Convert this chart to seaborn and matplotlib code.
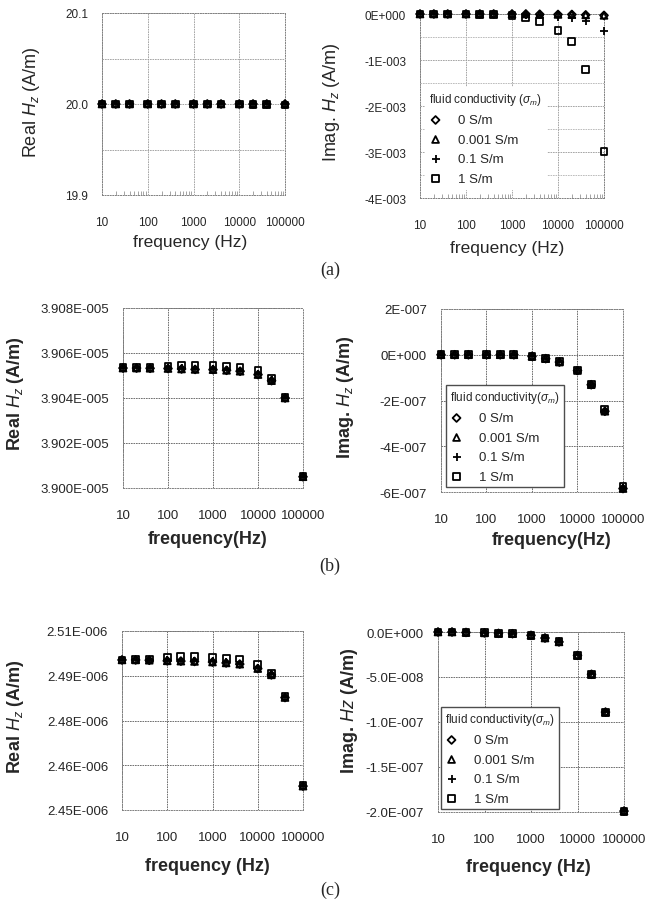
import numpy as np
import pandas as pd
import matplotlib
matplotlib.use("Agg")
import matplotlib.pyplot as plt
import seaborn as sns

# ---- data ----
freq = [10, 20, 40, 100, 200, 400, 1000, 2000, 4000, 10000, 20000, 40000, 100000]
sigma_labels = ["0 S/m", "0.001 S/m", "0.1 S/m", "1 S/m"]
sigma_markers = ["D", "^", "+", "s"]

# (a) real / imag Hz
a_real_0 = [20.0, 20.0, 20.0, 20.0, 20.0, 20.0, 20.0, 20.0, 20.0, 20.0, 20.0, 20.0, 20.0]
a_real_0001 = [20.0, 20.0, 20.0, 20.0, 20.0, 20.0, 20.0, 20.0, 20.0, 20.0, 20.0, 20.0, 20.0]
a_real_01 = [20.0, 20.0, 20.0, 20.0, 20.0, 20.0, 20.0, 20.0, 20.0, 20.0, 20.0, 20.0, 19.9999]
a_real_1 = [20.0, 20.0, 20.0, 20.0, 20.0, 20.0, 20.0, 20.0, 20.0, 19.9999, 19.9998, 19.9996, 19.999]
a_imag_0 = [0, 0, 0, 0, 0, 0, 0, 0, -0.000005, -0.00001, -0.00001, -0.00002, -0.00003]
a_imag_0001 = [0, 0, 0, 0, 0, 0, 0, 0, -0.000005, -0.00001, -0.00001, -0.00002, -0.00003]
a_imag_01 = [0, 0, 0, 0, 0, 0, -0.00001, -0.00002, -0.00003, -0.00006, -0.00008, -0.00016, -0.00036]
a_imag_1 = [0, 0, 0, 0, -0.000005, -0.00001, -0.00003, -0.00007, -0.00016, -0.00036, -0.00059, -0.0012, -0.00299]

# (b)
b_real_0 = [3.90533e-5, 3.90533e-5, 3.90532e-5, 3.90531e-5, 3.90529e-5, 3.90527e-5, 3.90526e-5,
            3.90523e-5, 3.90519e-5, 3.90504e-5, 3.90477e-5, 3.90400e-5, 3.90050e-5]
b_real_0001 = [3.90533e-5, 3.90533e-5, 3.90532e-5, 3.90531e-5, 3.90529e-5, 3.90527e-5, 3.90526e-5,
               3.90523e-5, 3.90519e-5, 3.90504e-5, 3.90477e-5, 3.90400e-5, 3.90050e-5]
b_real_01 = [3.90533e-5, 3.90534e-5, 3.90534e-5, 3.90533e-5, 3.90532e-5, 3.90530e-5, 3.90529e-5,
             3.90526e-5, 3.90522e-5, 3.90507e-5, 3.90479e-5, 3.90401e-5, 3.90050e-5]
b_real_1 = [3.90534e-5, 3.90536e-5, 3.90537e-5, 3.90542e-5, 3.90546e-5, 3.90545e-5, 3.90544e-5,
            3.90540e-5, 3.90536e-5, 3.90521e-5, 3.90487e-5, 3.90403e-5, 3.90052e-5]
b_imag_0 = [0, 0, 0, 0, 0, -0.001e-7, -0.07e-7, -0.17e-7, -0.32e-7, -0.69e-7, -1.31e-7, -2.47e-7, -5.85e-7]
b_imag_0001 = [0, 0, 0, 0, 0, -0.001e-7, -0.07e-7, -0.17e-7, -0.32e-7, -0.69e-7, -1.31e-7, -2.47e-7, -5.85e-7]
b_imag_01 = [0, 0, 0, 0, 0, -0.001e-7, -0.07e-7, -0.17e-7, -0.32e-7, -0.69e-7, -1.31e-7, -2.45e-7, -5.82e-7]
b_imag_1 = [0, 0, 0, 0, 0, -0.001e-7, -0.07e-7, -0.16e-7, -0.31e-7, -0.67e-7, -1.28e-7, -2.40e-7, -5.75e-7]

# (c)
c_real_0 = [2.5003e-6, 2.5003e-6, 2.5002e-6, 2.5000e-6, 2.4999e-6, 2.4998e-6, 2.4996e-6,
            2.4993e-6, 2.4989e-6, 2.4974e-6, 2.4953e-6, 2.4877e-6, 2.4580e-6]
c_real_0001 = [2.5003e-6, 2.5003e-6, 2.5002e-6, 2.5000e-6, 2.4999e-6, 2.4998e-6, 2.4996e-6,
               2.4993e-6, 2.4989e-6, 2.4974e-6, 2.4953e-6, 2.4877e-6, 2.4580e-6]
c_real_01 = [2.5003e-6, 2.5004e-6, 2.5003e-6, 2.5002e-6, 2.5001e-6, 2.5000e-6, 2.4998e-6,
             2.4995e-6, 2.4991e-6, 2.4977e-6, 2.4955e-6, 2.4878e-6, 2.4581e-6]
c_real_1 = [2.5003e-6, 2.5005e-6, 2.5006e-6, 2.50116e-6, 2.5014e-6, 2.5015e-6, 2.5012e-6,
            2.5009e-6, 2.5006e-6, 2.4989e-6, 2.4958e-6, 2.4880e-6, 2.4583e-6]
c_imag_0 = [0, 0, -0.05e-8, -0.1e-8, -0.15e-8, -0.19e-8, -0.37e-8, -0.67e-8, -1.1e-8, -2.6e-8, -4.7e-8, -8.9e-8, -19.9e-8]
c_imag_0001 = [0, 0, -0.05e-8, -0.1e-8, -0.15e-8, -0.19e-8, -0.37e-8, -0.67e-8, -1.1e-8, -2.6e-8, -4.7e-8, -8.9e-8, -19.9e-8]
c_imag_01 = [0, 0, -0.05e-8, -0.1e-8, -0.15e-8, -0.19e-8, -0.37e-8, -0.67e-8, -1.1e-8, -2.6e-8, -4.7e-8, -8.9e-8, -19.9e-8]
c_imag_1 = [0, 0, -0.05e-8, -0.1e-8, -0.15e-8, -0.19e-8, -0.37e-8, -0.66e-8, -1.1e-8, -2.6e-8, -4.7e-8, -8.9e-8, -19.9e-8]

# y ticks and labels
a_real_ticks = [19.9, 20.0, 20.1]
a_real_ticklabels = ["19.9", "20.0", "20.1"]
a_imag_ticks = [-4e-3, -3e-3, -2e-3, -1e-3, 0]
a_imag_ticklabels = ["-4E-003", "-3E-003", "-2E-003", "-1E-003", "0E+000"]
b_real_ticks = [3.900e-5, 3.902e-5, 3.904e-5, 3.906e-5, 3.908e-5]
b_real_ticklabels = ["3.900E-005", "3.902E-005", "3.904E-005", "3.906E-005", "3.908E-005"]
b_imag_ticks = [-6e-7, -4e-7, -2e-7, 0, 2e-7]
b_imag_ticklabels = ["-6E-007", "-4E-007", "-2E-007", "0E+000", "2E-007"]
c_real_ticks = [2.45e-6, 2.465e-6, 2.48e-6, 2.495e-6, 2.51e-6]
c_real_ticklabels = ["2.45E-006", "2.46E-006", "2.48E-006", "2.49E-006", "2.51E-006"]
c_imag_ticks = [-2.0e-7, -1.5e-7, -1.0e-7, -5.0e-8, 0]
c_imag_ticklabels = ["-2.0E-007", "-1.5E-007", "-1.0E-007", "-5.0E-008", "0.0E+000"]
x_ticks = [10, 100, 1000, 10000, 100000]
x_ticklabels = ["10", "100", "1000", "10000", "100000"]

sns.set_theme(style="white")
plt.rcParams['font.family'] = ['Liberation Sans', 'DejaVu Sans']
plt.rcParams['mathtext.fontset'] = 'custom'
plt.rcParams['mathtext.rm'] = 'Liberation Sans'
plt.rcParams['mathtext.it'] = 'Liberation Sans:italic'

W, H = 647, 904
fig = plt.figure(figsize=(W / 100, H / 100), dpi=100)


def box(x0, y0, x1, y1):
    return [x0 / W, 1 - y1 / H, (x1 - x0) / W, (y1 - y0) / H]


def ftxt(x, y, s, **kw):
    fig.text(x / W, 1 - y / H, s, ha='center', va='center', **kw)


def draw(ax, series, ylim, ticks, ticklabels, minor, gridcol, tsize):
    for vals, lab, m in zip(series, sigma_labels, sigma_markers):
        if m == '+':
            sns.scatterplot(x=freq, y=vals, marker=m, s=38, color='black', linewidth=1.3,
                            label=lab, ax=ax, clip_on=False, zorder=5, legend=False)
        else:
            sns.scatterplot(x=freq, y=vals, marker=m, s=24 if m != 'D' else 16,
                            facecolor='none', edgecolor='black', linewidth=1.3,
                            label=lab, ax=ax, clip_on=False, zorder=5, legend=False)
    ax.set_xscale('log')
    ax.set_xlim(10, 100000)
    ax.set_ylim(*ylim)
    ax.set_xticks(x_ticks, x_ticklabels)
    ax.set_yticks(ticks, ticklabels)
    if minor is not None:
        ax.set_yticks(minor, minor=True)
    ax.tick_params(axis='y', which='major', direction='out', length=8, width=0.6,
                   color='0.5', labelsize=tsize, pad=2)
    ax.tick_params(axis='y', which='minor', direction='in', length=3, width=0.5, color='0.5')
    ax.tick_params(axis='x', which='major', direction='out', length=6, width=0.6,
                   color='0.5', labelsize=tsize, pad=9)
    ax.tick_params(axis='x', which='minor', direction='in', length=3, width=0.5,
                   color='0.5', bottom=True)
    ax.grid(True, which='major', color=gridcol, linewidth=0.6, linestyle=(0, (2, 1)))
    for sp in ax.spines.values():
        sp.set_color('0.5')
        sp.set_linewidth(0.7)
        sp.set_linestyle(':')
    ax.set_xlabel('')
    ax.set_ylabel('')


def add_legend(ax, title, x, y, edge):
    ax.legend(title=title, loc='upper left',
              bbox_to_anchor=(x / W, 1 - y / H), bbox_transform=fig.transFigure,
              fontsize=9.5, title_fontsize=8.5, frameon=True, fancybox=False,
              edgecolor=edge, framealpha=1, handlelength=1.0, handletextpad=1.2,
              labelspacing=0.55, borderpad=0.3, borderaxespad=0, alignment='left')


# ---- (a) ----
ax1 = fig.add_axes(box(102, 14, 285, 196))
draw(ax1, [a_real_0, a_real_0001, a_real_01, a_real_1], (19.9, 20.1),
     a_real_ticks, a_real_ticklabels, [19.95, 20.05], '0.6', 8.5)
ax1.grid(True, which='minor', axis='y', color='0.6', linewidth=0.6, linestyle=(0, (2, 1)))

ax2 = fig.add_axes(box(420, 15, 604, 199))
draw(ax2, [a_imag_0, a_imag_0001, a_imag_01, a_imag_1], (-4e-3, 0),
     a_imag_ticks, a_imag_ticklabels, [-3.5e-3, -2.5e-3, -1.5e-3, -0.5e-3], '0.6', 8.5)
ax2.grid(True, which='minor', axis='y', color='0.7', linewidth=0.6, linestyle=(0, (2, 1)))
add_legend(ax2, r"fluid conductivity ($\sigma_m$)", 425, 88, 'white')

ftxt(32, 102, r"Real $H_z$ (A/m)", rotation=90, fontsize=13)
ftxt(190, 243, "frequency (Hz)", fontsize=12.5)
ftxt(332, 102, r"Imag. $H_z$ (A/m)", rotation=90, fontsize=13)
ftxt(507, 248, "frequency (Hz)", fontsize=12.5)
ftxt(330, 270, "(a)", fontsize=13, family='Liberation Serif')

# ---- (b) ----
ax3 = fig.add_axes(box(123, 309, 303, 489))
draw(ax3, [b_real_0, b_real_0001, b_real_01, b_real_1], (3.900e-5, 3.908e-5),
     b_real_ticks, b_real_ticklabels, [3.901e-5, 3.903e-5, 3.905e-5, 3.907e-5], '0.35', 9.5)

ax4 = fig.add_axes(box(441, 310, 623, 493))
draw(ax4, [b_imag_0, b_imag_0001, b_imag_01, b_imag_1], (-6e-7, 2e-7),
     b_imag_ticks, b_imag_ticklabels, [-5e-7, -3e-7, -1e-7, 1e-7], '0.35', 9.5)
add_legend(ax4, r"fluid conductivity($\sigma_m$)", 446, 386, '0.3')

ftxt(16, 394, r"Real $H_z$ (A/m)", rotation=90, fontsize=13, weight='bold')
ftxt(208, 540, "frequency(Hz)", fontsize=13, weight='bold')
ftxt(345, 397, r"Imag. $H_z$ (A/m)", rotation=90, fontsize=13, weight='bold')
ftxt(552, 541, "frequency(Hz)", fontsize=13, weight='bold')
ftxt(330, 566, "(b)", fontsize=13, family='Liberation Serif')

# ---- (c) ----
ax5 = fig.add_axes(box(122, 632, 303, 811))
draw(ax5, [c_real_0, c_real_0001, c_real_01, c_real_1], (2.45e-6, 2.51e-6),
     c_real_ticks, c_real_ticklabels, [2.4575e-6, 2.4725e-6, 2.4875e-6, 2.5025e-6], '0.35', 9.5)

ax6 = fig.add_axes(box(438, 633, 624, 813))
draw(ax6, [c_imag_0, c_imag_0001, c_imag_01, c_imag_1], (-2e-7, 0),
     c_imag_ticks, c_imag_ticklabels, [-1.75e-7, -1.25e-7, -0.75e-7, -0.25e-7], '0.35', 9.5)
add_legend(ax6, r"fluid conductivity($\sigma_m$)", 441, 708, '0.3')

ftxt(16, 717, r"Real $H_z$ (A/m)", rotation=90, fontsize=13, weight='bold')
ftxt(207, 867, "frequency (Hz)", fontsize=13, weight='bold')
ftxt(349, 711, r"Imag. $Hz$ (A/m)", rotation=90, fontsize=13, weight='bold')
ftxt(528, 868, "frequency (Hz)", fontsize=13, weight='bold')
ftxt(330, 890, "(c)", fontsize=13, family='Liberation Serif')

fig.savefig("out.png", dpi=100, facecolor='white')
